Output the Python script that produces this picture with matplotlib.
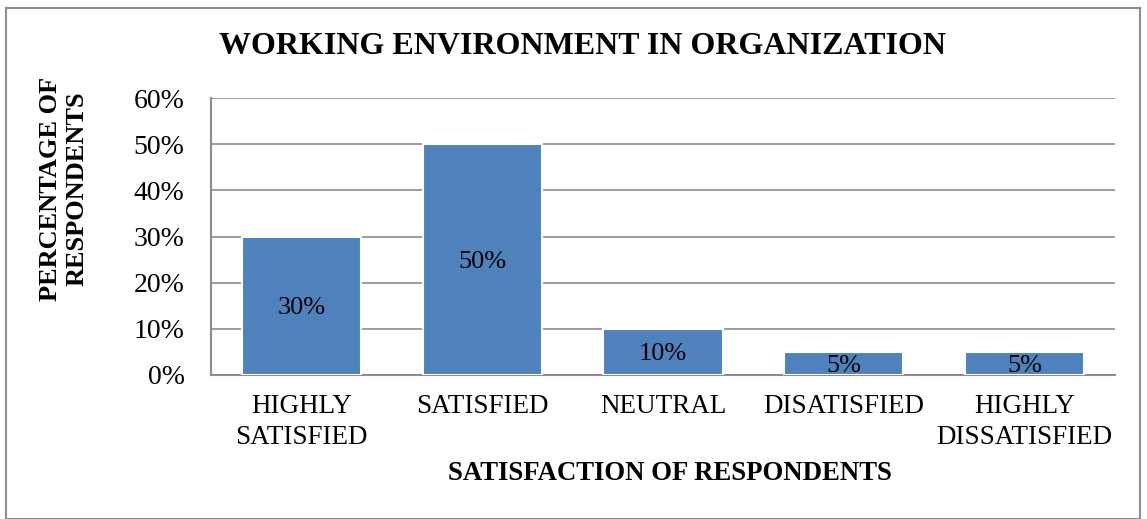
import matplotlib.pyplot as plt
from matplotlib.patches import Rectangle
from matplotlib.ticker import FuncFormatter

# data
categories = ["HIGHLY\nSATISFIED", "SATISFIED", "NEUTRAL", "DISATISFIED", "HIGHLY\nDISSATISFIED"]
values = [30, 50, 10, 5, 5]
bar_labels = ["30%", "50%", "10%", "5%", "5%"]

plt.rcParams['font.family'] = ['Liberation Serif', 'DejaVu Serif']

fig = plt.figure(figsize=(11.47, 5.19), dpi=100)
ax = fig.add_axes([211 / 1147, 1 - 375 / 519, (1115 - 211) / 1147, (375 - 98) / 519])

# outer chart border
fig.patches.append(Rectangle((6 / 1147, 0), 1134 / 1147, 1 - 8 / 519, transform=fig.transFigure,
                             fill=False, edgecolor="#8c8c8c", linewidth=1.5))

x = range(len(categories))
bars = ax.bar(x, values, width=0.66, color="#4f81bd", edgecolor="white", linewidth=1.5, zorder=3)

for b, lab in zip(bars, bar_labels):
    ax.text(b.get_x() + b.get_width() / 2, b.get_height() / 2 - 0.5, lab,
            ha="center", va="center", fontsize=19, color="black", zorder=4)

ax.set_xlim(-0.5, len(categories) - 0.5)
ax.set_ylim(0, 60)
ax.set_yticks(range(0, 61, 10))
ax.yaxis.set_major_formatter(FuncFormatter(lambda v, p: f"{int(v)}%"))
ax.set_xticks(list(x))
ax.set_xticklabels(categories, fontsize=19.5, linespacing=1.3)
ax.tick_params(axis="y", labelsize=20, length=0, pad=19)
ax.tick_params(axis="x", length=0, pad=14)

ax.grid(axis="y", color="#8c8c8c", linewidth=1.2, zorder=0)
for side in ["top", "right"]:
    ax.spines[side].set_visible(False)
ax.spines["left"].set_color("#8c8c8c")
ax.spines["bottom"].set_color("#8c8c8c")
ax.spines["left"].set_linewidth(1.5)
ax.spines["bottom"].set_linewidth(1.5)

fig.text(583 / 1147, 1 - 47 / 519, "WORKING ENVIRONMENT IN ORGANIZATION",
         ha="center", va="center", fontsize=23, fontweight="bold")
fig.text(670 / 1147, 1 - 474 / 519, "SATISFACTION OF RESPONDENTS",
         ha="center", va="center", fontsize=19.3, fontweight="bold")
fig.text(64 / 1147, 1 - 189 / 519, "PERCENTAGE OF\nRESPONDENTS", rotation=90,
         ha="center", va="center", fontsize=19, fontweight="bold", linespacing=1.2)

fig.savefig("out.png", dpi=100)
